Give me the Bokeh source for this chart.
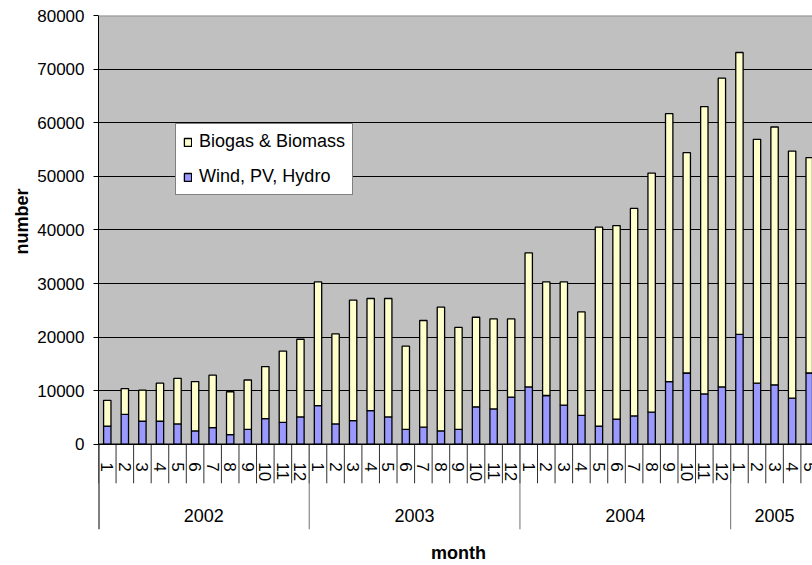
import math

from bokeh.plotting import figure
from bokeh.models import (ColumnDataSource, Range1d, FixedTicker, NumeralTickFormatter,
                          Legend, LegendItem, Span, BoxAnnotation, Title)
from bokeh.core.properties import value
from bokeh.embed import file_html
from bokeh.resources import INLINE

# ---- data -------------------------------------------------------------
years = ["2002", "2003", "2004", "2005"]
months_per_year = [12, 12, 12, 5]
month_labels = [str(m) for n in months_per_year for m in range(1, n + 1)]

wind_pv_hydro = [
    3400, 5600, 4300, 4300, 3800, 2500, 3100, 1800, 2800, 4800, 4100, 5100,      # 2002
    7200, 3800, 4400, 6300, 5100, 2800, 3200, 2500, 2800, 7000, 6600, 8800,      # 2003
    10700, 9100, 7300, 5400, 3400, 4700, 5300, 6000, 11700, 13300, 9400, 10700,  # 2004
    20500, 11400, 11100, 8600, 13300,                                             # 2005
]
biogas_biomass = [
    4800, 4800, 5800, 7100, 8500, 9200, 9800, 8000, 9200, 9700, 13300, 14500,
    23100, 16800, 22500, 20900, 22100, 15500, 19900, 23100, 19000, 16700, 16800, 14600,
    25000, 21200, 23000, 19300, 37100, 36100, 38700, 44600, 50000, 41100, 53600, 57600,
    52600, 45500, 48100, 46100, 40200,
]
y_ticks = [0, 10000, 20000, 30000, 40000, 50000, 60000, 70000, 80000]
y_max = 80000

# ---- styling / geometry ----------------------------------------------
FONT = "Liberation Sans"
BLUE = "#9999FF"
YELLOW = "#FFFFCC"
GREY_BG = "#C0C0C0"
WIDTH, HEIGHT = 812, 565
LEFT, TOP = 98, 15            # frame offsets in px
PX_PER_MONTH = 17.56
UNITS_PER_PX = 10000 / 53.6   # value units per vertical pixel
n_months = len(month_labels)
x_end = (WIDTH - LEFT) / PX_PER_MONTH
frame_h = HEIGHT - TOP
y_start = y_max - frame_h * UNITS_PER_PX


def below_zero(px):
    """Value-axis position that lies px pixels under the zero line."""
    return -px * UNITS_PER_PX


src = ColumnDataSource(dict(
    x=[i + 0.5 for i in range(n_months)],
    wind=wind_pv_hydro,
    bio=biogas_biomass,
))

p = figure(width=WIDTH, height=HEIGHT,
           x_range=Range1d(0, x_end), y_range=Range1d(y_start, y_max),
           x_axis_location=None,
           output_backend="svg", toolbar_location=None,
           min_border_left=LEFT, min_border_right=0,
           min_border_top=TOP, min_border_bottom=0)
p.background_fill_color = "white"
p.border_fill_color = "white"
p.outline_line_color = None
p.xgrid.visible = False

# grey plotting area between 0 and the top of the value axis
p.add_layout(BoxAnnotation(bottom=0, top=y_max, fill_color=GREY_BG, fill_alpha=1,
                           line_color=None, level="image"))
p.add_layout(Span(location=y_max, dimension="width", line_color="#909090", line_width=2))

p.yaxis.bounds = (0, y_max)
p.yaxis.ticker = FixedTicker(ticks=y_ticks)
p.yaxis.formatter = NumeralTickFormatter(format="0")
p.yaxis.axis_line_color = "black"
p.yaxis.axis_line_width = 1
p.yaxis.major_tick_line_color = "black"
p.yaxis.major_tick_out = 5
p.yaxis.major_tick_in = 0
p.yaxis.minor_tick_line_color = None
p.yaxis.major_label_text_font = FONT
p.yaxis.major_label_text_font_size = "17px"
p.yaxis.major_label_text_color = "black"
p.yaxis.major_label_standoff = 9

# value-axis title, placed beside the 0..80000 part of the axis
p.add_layout(Title(text="number", align="right", offset=173, standoff=6,
                   text_font=FONT, text_font_size="18px", text_font_style="bold",
                   text_color="black"), "left")

p.ygrid.ticker = FixedTicker(ticks=y_ticks[:-1])
p.ygrid.grid_line_color = "black"
p.ygrid.grid_line_width = 1

bars = p.vbar_stack(["wind", "bio"], x="x", width=0.42, source=src,
                    fill_color=[BLUE, YELLOW], line_color="black", line_width=1.3)

p.add_layout(Span(location=0, dimension="width", line_color="black", line_width=1.6))

legend = Legend(items=[LegendItem(label="Biogas & Biomass", renderers=[bars[1]]),
                       LegendItem(label="Wind, PV, Hydro", renderers=[bars[0]])],
                location=(77, HEIGHT - 195), orientation="vertical",
                border_line_color="black", border_line_width=1,
                background_fill_color="white", background_fill_alpha=1,
                label_text_font=FONT, label_text_font_size="18px",
                label_text_color="black",
                glyph_width=9, glyph_height=10, label_standoff=7,
                label_height=20, padding=7, spacing=14, margin=0)
p.add_layout(legend)

# ---- category axis: month cells, year groups, title ------------------------
bounds = list(range(n_months + 1))
p.segment(x0=bounds, y0=[0] * len(bounds), x1=bounds, y1=[below_zero(39)] * len(bounds),
          line_color="#303030", line_width=1)

year_starts = [sum(months_per_year[:i]) for i in range(len(years))]
year_centers = [s + n / 2 for s, n in zip(year_starts, months_per_year)]
p.segment(x0=year_starts, y0=[0] * len(years), x1=year_starts,
          y1=[below_zero(85)] * len(years),
          line_color=["black"] + ["#707070"] * (len(years) - 1),
          line_width=[2] + [1] * (len(years) - 1))

p.text(x=[i + 0.5 for i in range(n_months)], y=[below_zero(18)] * n_months,
       text=month_labels, angle=-math.pi / 2, text_align="left", text_baseline="middle",
       text_font=value(FONT), text_font_size="17px", text_color="black")

p.text(x=year_centers, y=[below_zero(71)] * len(years), text=years,
       text_align="center", text_baseline="middle",
       text_font=value(FONT), text_font_size="18px", text_color="black")

p.text(x=[n_months / 2], y=[below_zero(109)], text=["month"],
       text_align="center", text_baseline="middle",
       text_font=value(FONT), text_font_size="18px", text_font_style="bold",
       text_color="black")

with open("out.html", "w") as f:
    f.write(file_html(p, INLINE))
